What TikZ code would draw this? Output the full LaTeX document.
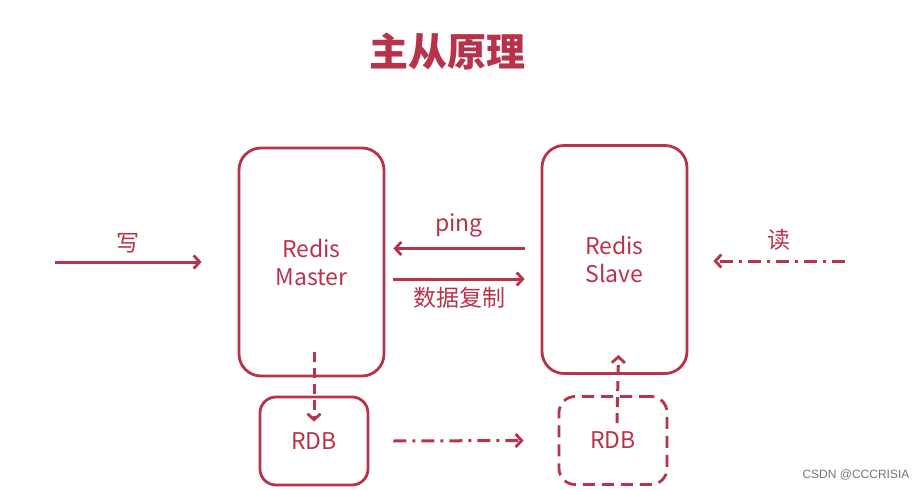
\documentclass[tikz,border=0pt]{standalone}
\usepackage{fontspec}
\newfontfamily\cjk{Noto Sans CJK SC}
\newfontfamily\wmfont{Liberation Sans}
\usepackage{tikz}
\usetikzlibrary{arrows.meta, positioning}
\definecolor{redisred}{HTML}{B8324A}

\tikzset{
  bigbox/.style={draw=redisred, line width=2.8pt, rounded corners=22pt, minimum width=145pt,
    minimum height=228pt, align=center, text=redisred, font=\cjk\fontsize{23}{28}\selectfont},
  rdbbox/.style={draw=redisred, line width=2.8pt, rounded corners=16pt, minimum width=108pt,
    minimum height=88pt, text=redisred, font=\cjk\fontsize{23}{28}\selectfont},
  flow/.style={draw=redisred, line width=3pt, -{Straight Barb[length=6pt,width=13pt,line width=2.8pt]}},
  dashdot/.style={dash pattern=on 13pt off 6pt on 3pt off 6pt},
  lbl/.style={text=redisred, font=\cjk\fontsize{23}{28}\selectfont}
}

\begin{document}
\begin{tikzpicture}[x=1pt, y=-1pt]
\useasboundingbox (0,0) rectangle (922,490);
% title
\node[text=redisred, font=\cjk\bfseries\fontsize{39}{44}\selectfont] (title) at (447,52) {主从原理};
% redis boxes
\node[bigbox] (master) at (311.5,262) {Redis\\Master};
\node[bigbox] (slave) at (614.5,259.5) {Redis\\Slave};
\node[rdbbox] (rdbm) at (314,441) {RDB};
\node[rdbbox, dash pattern=on 12pt off 7pt] (rdbs) at (613,440.5) {RDB};
% write / read
\coordinate (wsrc) at (55,262);
\coordinate (rsrc) at (845,261);
\draw[flow] (wsrc) -- ([xshift=-36pt]wsrc -| master.west) node[lbl, midway, above=4pt] {写};
\draw[flow, dashdot] (rsrc) -- ([xshift=25pt]rsrc -| slave.east) node[lbl, midway, above=6pt] {读};
% ping / sync
\draw[flow] ([xshift=-16pt,yshift=11pt]slave.west) -- ([xshift=8pt,yshift=11pt]slave.west -| master.east)
  node[lbl, midway, above=6pt] {ping};
\draw[flow] ([xshift=8pt,yshift=-17pt]master.east) -- ([xshift=-16pt,yshift=-17pt]master.east -| slave.west)
  node[lbl, midway, below=3pt] {数据复制};
% rdb links
\draw[flow, dash pattern=on 10pt off 6pt] ([xshift=2.5pt,yshift=25pt]master.south) -- ([yshift=-26pt]rdbm.north);
\draw[flow, dash pattern=on 10pt off 6pt] ([xshift=4pt,yshift=-28pt]rdbs.north) -- ([xshift=4pt,yshift=20pt]slave.south);
\draw[flow, dashdot] ([xshift=24pt]rdbm.east) -- ([xshift=-34pt]rdbs.west);
% watermark
\node[text=black!55, font=\wmfont\fontsize{12}{14}\selectfont] (mark) at (856,475) {CSDN @CCCRISIA};
\end{tikzpicture}
\end{document}
